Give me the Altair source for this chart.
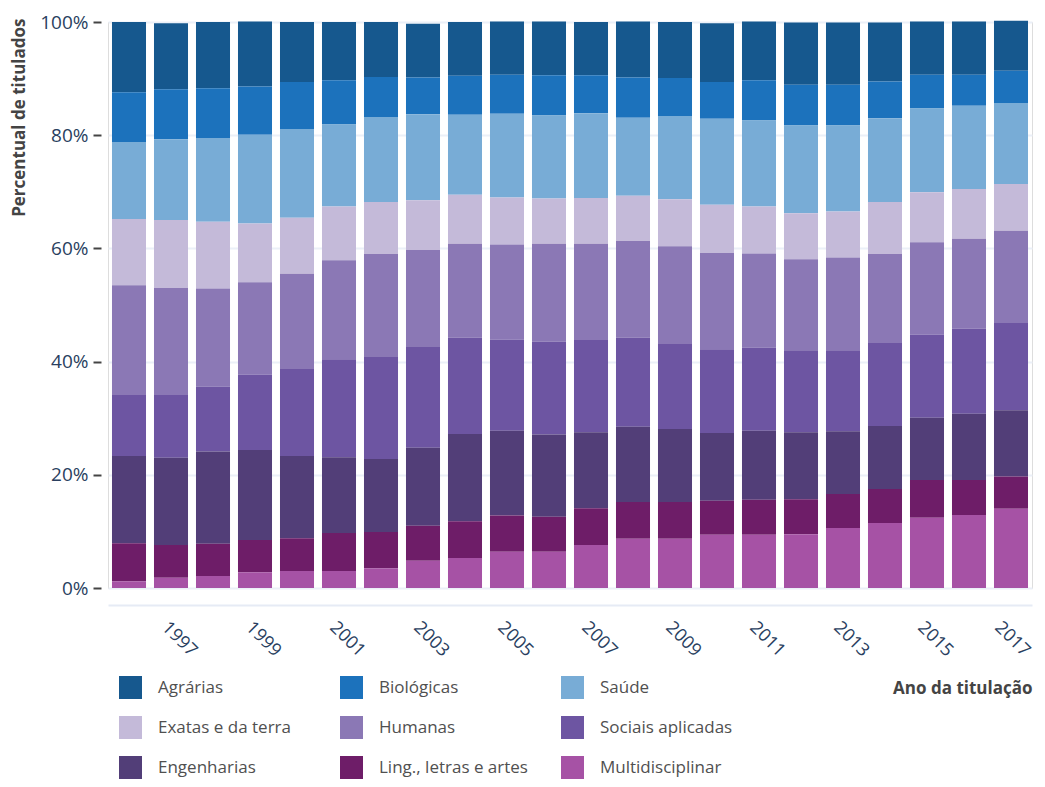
import altair as alt
import pandas as pd

years = [str(y) for y in range(1996, 2018)]

categories = ["Agrárias", "Biológicas", "Saúde", "Exatas e da terra", "Humanas",
              "Sociais aplicadas", "Engenharias", "Ling., letras e artes", "Multidisciplinar"]
colors = ["#16588e", "#1c72bc", "#78acd6", "#c4bad9", "#8b78b5",
          "#6d55a2", "#523e78", "#6e1d68", "#a652a5"]

# percentage of titled per area and year (1996..2017)
multidisciplinar = [1.2, 1.8, 2.1, 2.8, 3.0, 3.0, 3.5, 4.8, 5.3, 6.4, 6.4, 7.6, 8.7, 8.7, 9.4, 9.4, 9.5, 10.6, 11.5, 12.4, 12.9, 14.0]
ling_letras = [6.7, 5.8, 5.7, 5.7, 5.8, 6.7, 6.4, 6.2, 6.5, 6.4, 6.2, 6.5, 6.5, 6.5, 6.0, 6.2, 6.2, 6.0, 6.0, 6.7, 6.2, 5.7]
engenharias = [15.4, 15.4, 16.3, 15.9, 14.5, 13.4, 12.9, 13.8, 15.4, 15.0, 14.5, 13.4, 13.3, 12.9, 12.0, 12.2, 11.8, 11.1, 11.1, 11.0, 11.7, 11.7]
sociais = [10.8, 11.1, 11.5, 13.3, 15.4, 17.3, 18.0, 17.8, 17.0, 16.1, 16.4, 16.3, 15.7, 15.0, 14.8, 14.7, 14.5, 14.3, 14.7, 14.7, 15.0, 15.4]
humanas = [19.4, 18.9, 17.3, 16.3, 16.8, 17.5, 18.2, 17.1, 16.6, 16.8, 17.3, 17.0, 17.1, 17.3, 17.0, 16.6, 16.1, 16.4, 15.7, 16.3, 15.9, 16.3]
exatas = [11.7, 12.0, 11.8, 10.4, 9.9, 9.5, 9.2, 8.8, 8.7, 8.3, 8.0, 8.1, 8.0, 8.3, 8.5, 8.3, 8.1, 8.1, 9.2, 8.8, 8.8, 8.3]
saude = [13.6, 14.3, 14.8, 15.7, 15.7, 14.5, 15.0, 15.2, 14.1, 14.8, 14.7, 15.0, 13.8, 14.7, 15.2, 15.2, 15.5, 15.2, 14.8, 14.8, 14.7, 14.3]
biologicas = [8.8, 8.8, 8.8, 8.5, 8.3, 7.8, 7.1, 6.5, 6.9, 6.9, 7.1, 6.7, 7.1, 6.7, 6.5, 7.1, 7.2, 7.2, 6.5, 6.0, 5.5, 5.7]
agrarias = [12.4, 11.7, 11.7, 11.5, 10.6, 10.3, 9.7, 9.5, 9.5, 9.4, 9.5, 9.4, 9.9, 9.9, 10.4, 10.4, 11.0, 11.0, 10.4, 9.4, 9.4, 8.8]

series = [agrarias, biologicas, saude, exatas, humanas, sociais, engenharias, ling_letras, multidisciplinar]

rows = []
for ci, (cat, vals) in enumerate(zip(categories, series)):
    for y, v in zip(years, vals):
        rows.append({"ano": y, "area": cat, "pct": v, "ord": len(categories) - 1 - ci})
df = pd.DataFrame(rows)

FONT = "Open Sans"

chart = alt.Chart(df).mark_bar().encode(
    x=alt.X("ano:O", title="Ano da titulação",
            scale=alt.Scale(paddingInner=0.19, paddingOuter=0.095),
            axis=alt.Axis(values=[str(y) for y in range(1997, 2018, 2)],
                          labelAngle=45, labelAlign="left", labelBaseline="top",
                          labelPadding=13, labelFontSize=18, labelColor="#2a3f5f",
                          labelFont=FONT, ticks=False, offset=17,
                          labelOffset={"condition": {"test": "datum.label == '2017'", "value": -7}, "value": 0},
                          domainColor="#e6ebf5", domainWidth=2, grid=False,
                          titleFont=FONT, titleFontSize=17, titleFontWeight="bold",
                          titleColor="#444444", titleAnchor="end", titleAlign="right",
                          titleBaseline="middle", titleX=924, titleY=83)),
    y=alt.Y("pct:Q", stack="zero", title="Percentual de titulados",
            scale=alt.Scale(domain=[0, 100], nice=False),
            axis=alt.Axis(values=[0, 20, 40, 60, 80, 100], labelExpr="datum.value + '%'",
                          labelFontSize=19, labelColor="#2a3f5f", labelFont=FONT,
                          labelPadding=5, tickSize=8, tickColor="#444444", tickWidth=2,
                          offset=7, domain=False, gridColor="#ebf0f8", gridWidth=2,
                          titleFont=FONT, titleFontSize=17, titleFontWeight="bold",
                          titleColor="#444444", titleAnchor="end", titleAlign="right",
                          titleAngle=-90, titleBaseline="middle", titleX=-82, titleY=-4)),
    color=alt.Color("area:N", scale=alt.Scale(domain=categories, range=colors),
                    legend=alt.Legend(title=None, orient="none", legendX=11, legendY=654,
                                      columns=3, direction="horizontal", gridAlign="all",
                                      symbolType="square", symbolSize=529, symbolStrokeWidth=0,
                                      symbolOpacity=1, labelFont=FONT, labelFontSize=17,
                                      labelColor="#505050", labelOffset=16, columnPadding=33,
                                      rowPadding=17, padding=0, labelLimit=300)),
    order=alt.Order("ord:Q", sort="ascending"),
).properties(
    width=924, height=566,
    autosize=alt.AutoSizeParams(type="none"),
    padding={"left": 100, "top": 14, "right": 5, "bottom": 191},
).configure_view(stroke=None).configure(background="white")

chart.save("out.html", embed_options={"renderer": "svg", "actions": False})
